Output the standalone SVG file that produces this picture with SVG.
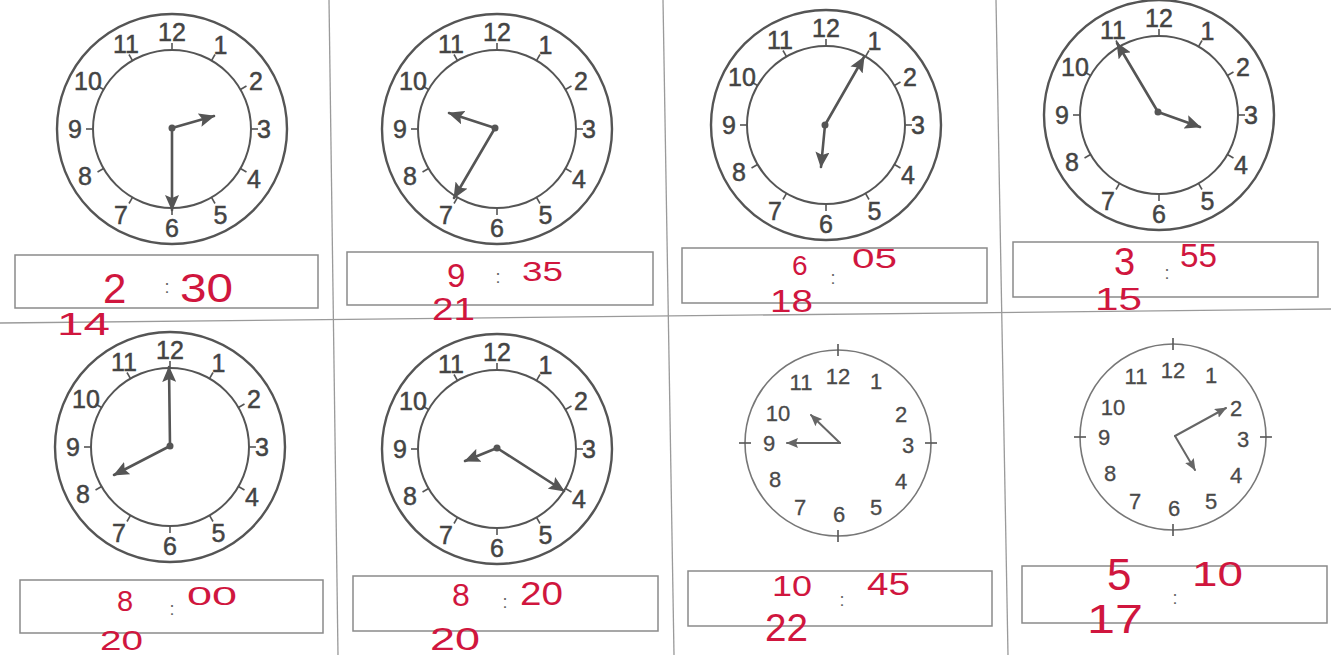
<svg xmlns="http://www.w3.org/2000/svg" xmlns:xlink="http://www.w3.org/1999/xlink" width="1331" height="655" viewBox="0 0 1331 655">
<style>
.ringO{fill:none;stroke:#555;stroke-width:2.4}
.ringI{fill:none;stroke:#555;stroke-width:2}
.ringB{fill:none;stroke:#777;stroke-width:1.6}
.tick{stroke:#555;stroke-width:1.6}
.num{font-family:"Liberation Sans",Arial,sans-serif;font-size:25px;fill:#444;stroke:#444;stroke-width:0.5;text-anchor:middle;dominant-baseline:central}
.numB{font-family:"Liberation Sans",Arial,sans-serif;font-size:22px;fill:#4a4a4a;stroke:#4a4a4a;stroke-width:0.3;text-anchor:middle;dominant-baseline:central}
.hand{stroke:#555;stroke-width:2.6;stroke-linecap:round;fill:none}
.handB{stroke:#666;stroke-width:2;stroke-linecap:round;fill:none}
.hub{fill:#555}
.box{fill:none;stroke:#8a8a8a;stroke-width:1.5}
.colon{font-family:"Liberation Sans",Arial,sans-serif;font-size:18px;fill:#666;text-anchor:middle;dominant-baseline:central}
.hw{font-family:"Liberation Sans",Arial,sans-serif;fill:#d0163e}
.grid line{stroke:#9a9a9a;stroke-width:1.3}
</style>
<defs>
<marker id="ah" viewBox="0 0 16 14" refX="15" refY="7" markerWidth="16" markerHeight="14" markerUnits="userSpaceOnUse" orient="auto">
<path d="M0,0 L16,7 L0,14 L3,7 z" fill="#555"/>
</marker>
<marker id="ahB" viewBox="0 0 12 10" refX="11" refY="5" markerWidth="12" markerHeight="10" markerUnits="userSpaceOnUse" orient="auto">
<path d="M0,0 L12,5 L0,10 L2,5 z" fill="#666"/>
</marker>
<line id="tkA" class="tick" x1="0" y1="-79" x2="0" y2="-86"/>
<line id="tkB" class="tick" x1="0" y1="-87" x2="0" y2="-99"/>
<g id="faceA">
<circle class="ringO" r="115"/>
<circle class="ringI" r="79"/>
<use href="#tkA"/>
<use href="#tkA" transform="rotate(30)"/>
<use href="#tkA" transform="rotate(60)"/>
<use href="#tkA" transform="rotate(90)"/>
<use href="#tkA" transform="rotate(120)"/>
<use href="#tkA" transform="rotate(150)"/>
<use href="#tkA" transform="rotate(180)"/>
<use href="#tkA" transform="rotate(210)"/>
<use href="#tkA" transform="rotate(240)"/>
<use href="#tkA" transform="rotate(270)"/>
<use href="#tkA" transform="rotate(300)"/>
<use href="#tkA" transform="rotate(330)"/>
<text class="num" x="0" y="-97">12</text>
<text class="num" x="48.5" y="-84">1</text>
<text class="num" x="84" y="-48.5">2</text>
<text class="num" x="92" y="0">3</text>
<text class="num" x="82" y="50">4</text>
<text class="num" x="48.5" y="86">5</text>
<text class="num" x="0" y="99">6</text>
<text class="num" x="-51" y="86">7</text>
<text class="num" x="-87" y="47">8</text>
<text class="num" x="-97" y="0">9</text>
<text class="num" x="-84" y="-48.5">10</text>
<text class="num" x="-46" y="-85">11</text>
</g>
<g id="faceB">
<circle class="ringB" r="93"/>
<use href="#tkB"/>
<use href="#tkB" transform="rotate(90)"/>
<use href="#tkB" transform="rotate(180)"/>
<use href="#tkB" transform="rotate(270)"/>
<text class="numB" x="0" y="-67">12</text>
<text class="numB" x="38" y="-62">1</text>
<text class="numB" x="63" y="-29">2</text>
<text class="numB" x="70" y="2">3</text>
<text class="numB" x="63" y="38">4</text>
<text class="numB" x="38" y="64">5</text>
<text class="numB" x="1" y="71">6</text>
<text class="numB" x="-38" y="64">7</text>
<text class="numB" x="-63" y="36">8</text>
<text class="numB" x="-69" y="0">9</text>
<text class="numB" x="-60" y="-30">10</text>
<text class="numB" x="-37" y="-61">11</text>
</g>
</defs>
<rect width="1331" height="655" fill="#fff"/>
<g id="connectors" class="grid">
<line x1="329" y1="0" x2="338" y2="655"/>
<line x1="663" y1="0" x2="674" y2="655"/>
<line x1="996" y1="0" x2="1008" y2="655"/>
<line x1="0" y1="323" x2="1331" y2="309"/>
</g>
<g id="clock-1">
<use href="#faceA" x="172" y="129"/>
<line class="hand" x1="172" y1="128" x2="214" y2="116" marker-end="url(#ah)"/>
<line class="hand" x1="172" y1="128" x2="172" y2="210" marker-end="url(#ah)"/>
<circle class="hub" cx="172" cy="128" r="3.5"/>
<rect class="box" x="15" y="255" width="303" height="53"/>
<text class="colon" x="167" y="287">:</text>
<text class="hw" x="103" y="303" font-size="42">2</text>
<text class="hw" x="180" y="302" font-size="40" textLength="53" lengthAdjust="spacingAndGlyphs">30</text>
<text class="hw" x="57" y="335" font-size="32" textLength="53" lengthAdjust="spacingAndGlyphs">14</text>
</g>
<g id="clock-2">
<use href="#faceA" x="497" y="129"/>
<line class="hand" x1="495" y1="128" x2="449" y2="113" marker-end="url(#ah)"/>
<line class="hand" x1="495" y1="128" x2="454" y2="198" marker-end="url(#ah)"/>
<circle class="hub" cx="495" cy="128" r="3.5"/>
<rect class="box" x="347" y="252" width="306" height="53"/>
<text class="colon" x="498" y="277">:</text>
<text class="hw" x="447" y="287" font-size="33">9</text>
<text class="hw" x="522" y="281" font-size="27" textLength="41" lengthAdjust="spacingAndGlyphs">35</text>
<text class="hw" x="432" y="320" font-size="31" textLength="43" lengthAdjust="spacingAndGlyphs">21</text>
</g>
<g id="clock-3">
<use href="#faceA" x="826" y="125"/>
<line class="hand" x1="825" y1="125" x2="864" y2="57" marker-end="url(#ah)"/>
<line class="hand" x1="825" y1="125" x2="821" y2="167" marker-end="url(#ah)"/>
<circle class="hub" cx="825" cy="125" r="3.5"/>
<rect class="box" x="682" y="248" width="305" height="55"/>
<text class="colon" x="833" y="278">:</text>
<text class="hw" x="792" y="275" font-size="28">6</text>
<text class="hw" x="852" y="268" font-size="28" textLength="45" lengthAdjust="spacingAndGlyphs">05</text>
<text class="hw" x="770" y="312" font-size="31" textLength="43" lengthAdjust="spacingAndGlyphs">18</text>
</g>
<g id="clock-4">
<use href="#faceA" x="1159" y="115"/>
<line class="hand" x1="1158" y1="112" x2="1117" y2="43" marker-end="url(#ah)"/>
<line class="hand" x1="1158" y1="112" x2="1200" y2="127" marker-end="url(#ah)"/>
<circle class="hub" cx="1158" cy="112" r="3.5"/>
<rect class="box" x="1013" y="242" width="305" height="55"/>
<text class="colon" x="1167" y="273">:</text>
<text class="hw" x="1114" y="275" font-size="38">3</text>
<text class="hw" x="1180" y="267" font-size="33" textLength="37" lengthAdjust="spacingAndGlyphs">55</text>
<text class="hw" x="1095" y="310" font-size="31" textLength="47" lengthAdjust="spacingAndGlyphs">15</text>
</g>
<g id="clock-5">
<use href="#faceA" x="170" y="447"/>
<line class="hand" x1="170" y1="446" x2="169" y2="367" marker-end="url(#ah)"/>
<line class="hand" x1="170" y1="446" x2="114" y2="475" marker-end="url(#ah)"/>
<circle class="hub" cx="170" cy="446" r="3.5"/>
<rect class="box" x="20" y="580" width="303" height="53"/>
<text class="colon" x="172" y="609">:</text>
<text class="hw" x="117" y="611" font-size="29">8</text>
<text class="hw" x="187" y="605" font-size="25" textLength="50" lengthAdjust="spacingAndGlyphs">00</text>
<text class="hw" x="100" y="650" font-size="28" textLength="43" lengthAdjust="spacingAndGlyphs">20</text>
</g>
<g id="clock-6">
<use href="#faceA" x="497" y="449"/>
<line class="hand" x1="497" y1="448" x2="465" y2="461" marker-end="url(#ah)"/>
<line class="hand" x1="497" y1="448" x2="564" y2="491" marker-end="url(#ah)"/>
<circle class="hub" cx="497" cy="448" r="3.5"/>
<rect class="box" x="353" y="576" width="305" height="55"/>
<text class="colon" x="505" y="602">:</text>
<text class="hw" x="452" y="606" font-size="32">8</text>
<text class="hw" x="520" y="605" font-size="33" textLength="43" lengthAdjust="spacingAndGlyphs">20</text>
<text class="hw" x="430" y="650" font-size="31" textLength="50" lengthAdjust="spacingAndGlyphs">20</text>
</g>
<g id="clock-7">
<use href="#faceB" x="838" y="443"/>
<line class="handB" x1="840" y1="443" x2="811" y2="415" marker-end="url(#ahB)"/>
<line class="handB" x1="840" y1="443" x2="787" y2="443" marker-end="url(#ahB)"/>
<rect class="box" x="688" y="571" width="304" height="55"/>
<text class="colon" x="842" y="600">:</text>
<text class="hw" x="772" y="596" font-size="29" textLength="40" lengthAdjust="spacingAndGlyphs">10</text>
<text class="hw" x="867" y="595" font-size="31" textLength="43" lengthAdjust="spacingAndGlyphs">45</text>
<text class="hw" x="765" y="641" font-size="38" textLength="43" lengthAdjust="spacingAndGlyphs">22</text>
</g>
<g id="clock-8">
<use href="#faceB" x="1173" y="437"/>
<line class="handB" x1="1175" y1="436" x2="1226" y2="408" marker-end="url(#ahB)"/>
<line class="handB" x1="1175" y1="436" x2="1195" y2="470" marker-end="url(#ahB)"/>
<rect class="box" x="1022" y="566" width="305" height="57"/>
<text class="colon" x="1175" y="598">:</text>
<text class="hw" x="1107" y="590" font-size="44">5</text>
<text class="hw" x="1192" y="586" font-size="35" textLength="51" lengthAdjust="spacingAndGlyphs">10</text>
<text class="hw" x="1087" y="633" font-size="40" textLength="56" lengthAdjust="spacingAndGlyphs">17</text>
</g>
</svg>
